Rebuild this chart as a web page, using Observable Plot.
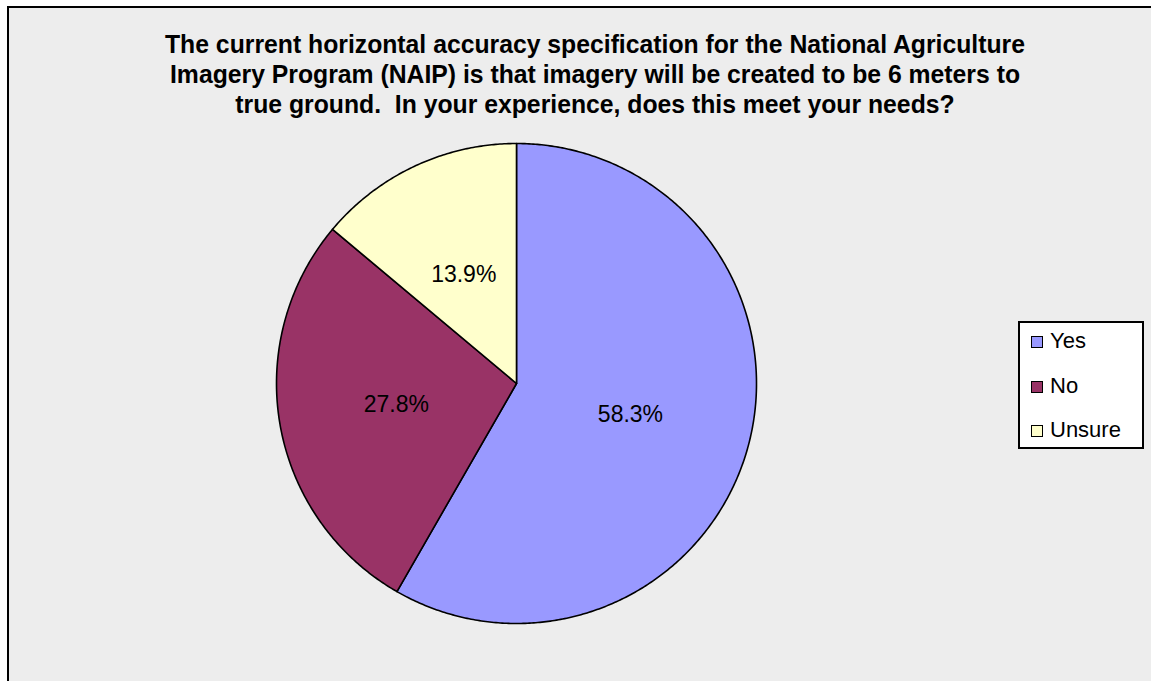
<!DOCTYPE html>
<html>
<head>
<meta charset="utf-8">
<script src="https://cdn.jsdelivr.net/npm/d3@7"></script>
<script src="https://cdn.jsdelivr.net/npm/@observablehq/plot@0.6"></script>
<style>
  html, body { margin: 0; padding: 0; background: #ffffff; width: 1151px; height: 681px; overflow: hidden; }
  #frame { position: absolute; left: 7px; top: 6px; width: 1144px; height: 675px; border-top: 2px solid #000; border-left: 2px solid #000; background: #ededed; box-sizing: border-box; font-family: "Liberation Sans", Arial, sans-serif; }
  #title { position: absolute; left: 0; top: 21px; width: 100%; text-align: center; font-weight: bold; font-size: 25px; line-height: 30px; color: #000; transform: translateX(15px) scaleX(0.99); transform-origin: 50% 0; white-space: nowrap; }
  #chart { position: absolute; left: 0; top: 122px; }
  #legend { position: absolute; left: 1009px; top: 313px; width: 126px; height: 128px; border: 2px solid #000; background: #fff; box-sizing: border-box; font-size: 22px; }
  .row { position: absolute; left: 11px; height: 24px; line-height: 24px; white-space: nowrap; }
  .sw { display: inline-block; width: 10px; height: 10px; border: 1.5px solid #000; margin-right: 7px; vertical-align: 0px; }
</style>
</head>
<body>
<div id="frame">
  <div id="title"></div>
  <div id="chart"></div>
  <div id="legend"></div>
</div>
<script>
const titleLines = [
  "The current horizontal accuracy specification for the National Agriculture",
  "Imagery Program (NAIP) is that imagery will be created to be 6 meters to",
  "true ground.  In your experience, does this meet your needs?"
];
const categories = ["Yes", "No", "Unsure"];
const values = [58.3, 27.8, 13.9];
const colors = ["#9999ff", "#993366", "#ffffcc"];

document.getElementById("title").innerHTML = titleLines.map(t => t.replace(/  /g, " &nbsp;")).join("<br>");

// pie layout (angles measured clockwise from 12 o'clock)
const pie = d3.pie().sort(null).value(d => d.value)(categories.map((c, i) => ({category: c, value: values[i], color: colors[i]})));
const slices = pie.map(p => {
  const mid = (p.startAngle + p.endAngle) / 2;
  return {...p.data, startAngle: p.startAngle, endAngle: p.endAngle, lx: 0.5 * Math.sin(mid), ly: 0.5 * Math.cos(mid)};
});

// outline of each wedge in unit coordinates (geometry of the slice)
const outline = [];
slices.forEach(s => {
  outline.push({category: s.category, color: s.color, x: 0, y: 0});
  const steps = Math.max(2, Math.ceil((s.endAngle - s.startAngle) / (Math.PI / 360)));
  for (let k = 0; k <= steps; k++) {
    const a = s.startAngle + (s.endAngle - s.startAngle) * k / steps;
    outline.push({category: s.category, color: s.color, x: Math.sin(a), y: Math.cos(a)});
  }
  outline.push({category: s.category, color: s.color, x: 0, y: 0});
});

const W = 1142, H = 553;
const cx = 507, cy = 253, R = 240;

const chart = Plot.plot({
  width: W, height: H,
  marginLeft: cx - R, marginRight: W - cx - R,
  marginTop: cy - R, marginBottom: H - cy - R,
  x: {domain: [-1, 1], axis: null},
  y: {domain: [-1, 1], axis: null},
  color: {type: "identity"},
  style: {background: "transparent", fontFamily: "Liberation Sans, Arial, sans-serif", overflow: "visible"},
  marks: [
    Plot.line(outline, {x: "x", y: "y", z: "category", fill: "color", stroke: "#000", strokeWidth: 1.6, strokeLinejoin: "round", curve: "linear"}),
    Plot.text(slices, {x: "lx", y: "ly", text: d => d.value.toFixed(1) + "%", fontSize: 23, fill: "#000", dx: -2, dy: 0})
  ]
});
document.getElementById("chart").appendChild(chart);

const legend = document.getElementById("legend");
const rowTops = [6, 50.5, 95];
categories.forEach((c, i) => {
  const row = document.createElement("div");
  row.className = "row";
  row.style.top = rowTops[i] + "px";
  row.innerHTML = `<span class="sw" style="background:${colors[i]}"></span>${c}`;
  legend.appendChild(row);
});
</script>
</body>
</html>
